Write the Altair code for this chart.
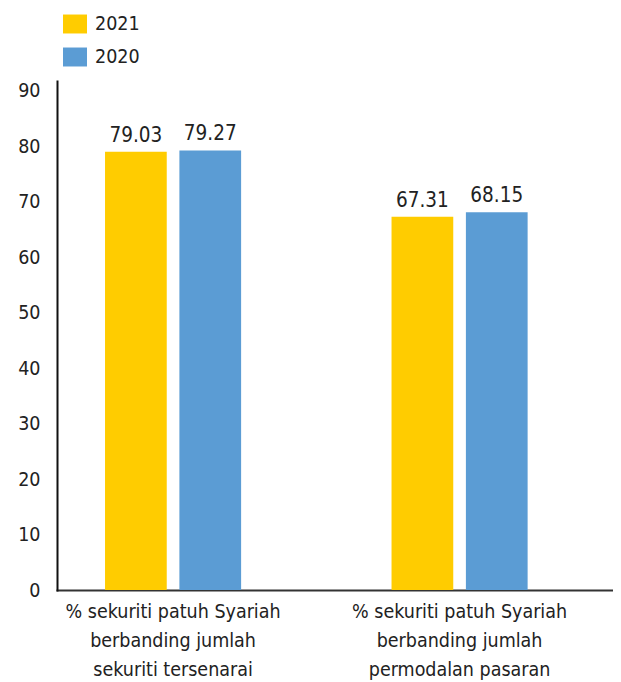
import altair as alt
import pandas as pd

categories = [
    "% sekuriti patuh Syariah|berbanding jumlah|sekuriti tersenarai",
    "% sekuriti patuh Syariah|berbanding jumlah|permodalan pasaran",
]
years = ["2021", "2020"]
values_2021 = [79.03, 67.31]
values_2020 = [79.27, 68.15]
y_ticks = [0, 10, 20, 30, 40, 50, 60, 70, 80, 90]
colors = ["#FFCC00", "#5B9CD4"]

rows = []
for i, c in enumerate(categories):
    rows.append({"cat": c, "year": "2021", "value": values_2021[i], "label": f"{values_2021[i]:.2f}"})
    rows.append({"cat": c, "year": "2020", "value": values_2020[i], "label": f"{values_2020[i]:.2f}"})
df = pd.DataFrame(rows)

FONT = "DejaVu Sans Condensed"

x = alt.X("cat:N", sort=categories, title=None,
          scale=alt.Scale(paddingInner=0.525, paddingOuter=0.2328, align=0.36),
          axis=alt.Axis(labelAngle=0, labelExpr="split(datum.label, '|')",
                        ticks=False, domainColor="#333333", domainWidth=2,
                        labelFontSize=19.5, labelColor="#222222", labelFont=FONT,
                        labelPadding=12, labelLineHeight=29, labelBaseline="top",
                        labelLimit=0))
xo = alt.XOffset("year:N", sort=years, scale=alt.Scale(paddingInner=0.17, paddingOuter=0))
y = alt.Y("value:Q", title=None,
          scale=alt.Scale(domain=[0, 91.8], nice=False),
          axis=alt.Axis(values=y_ticks, grid=False, ticks=False, domainColor="#111111",
                        domainWidth=2, labelFontSize=19.5, labelColor="#222222",
                        labelFont=FONT, labelPadding=17))
color = alt.Color("year:N", sort=years,
                  scale=alt.Scale(domain=years, range=colors),
                  legend=alt.Legend(title=None, orient="none", legendX=6, legendY=-69,
                                    symbolType="M-1,-0.79h2v1.58h-2z", symbolSize=576,
                                    symbolStrokeWidth=0, labelFontSize=19.5, labelFont=FONT,
                                    labelColor="#222222", labelOffset=8, rowPadding=11,
                                    padding=0))

base = alt.Chart(df)
bars = base.mark_bar().encode(x=x, xOffset=xo, y=y, color=color)
texts = base.mark_text(dy=-10, baseline="alphabetic", fontSize=20.5, font=FONT,
                       color="#222222").encode(
    x=x, xOffset=xo, y=y, text="label:N")

chart = (bars + texts).properties(
    width=556, height=509,
    autosize=alt.AutoSizeParams(type="none"),
    padding={"left": 49, "top": 73, "right": 0, "bottom": 92},
).configure_view(stroke=None).configure_axis(domainCap="square")

chart.save("out.html", embed_options={"renderer": "svg", "actions": False})
